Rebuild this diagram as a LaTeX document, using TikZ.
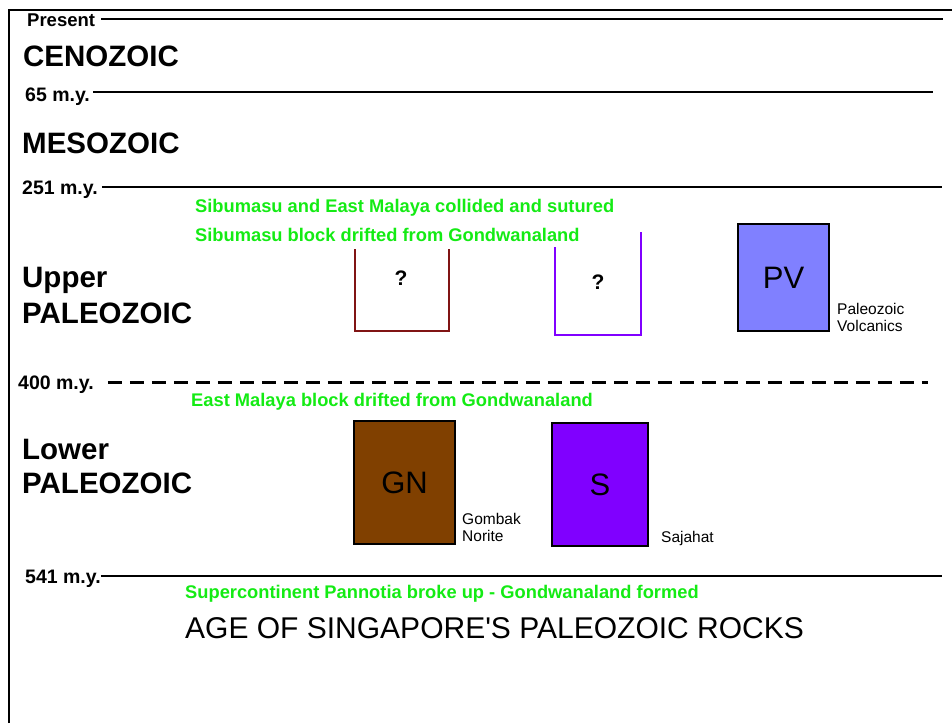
\documentclass[tikz,border=0pt]{standalone}
\usepackage{fontspec}
\newfontfamily\arial{Liberation Sans}
\definecolor{limeg}{RGB}{20,235,20}
\definecolor{brownbox}{RGB}{128,20,20}
\definecolor{violetq}{RGB}{128,0,255}
\definecolor{pvfill}{RGB}{128,128,255}
\definecolor{gnfill}{RGB}{128,64,0}
\definecolor{sfill}{RGB}{128,0,255}
\tikzset{
  every node/.style={font=\arial},
  lbl/.style={anchor=base west, inner sep=0pt, font=\arial\bfseries\fontsize{19.5}{19.5}\selectfont},
  era/.style={anchor=base west, inner sep=0pt, font=\arial\bfseries\fontsize{29.5}{29.5}\selectfont},
  grn/.style={anchor=base west, inner sep=0pt, text=limeg, font=\arial\bfseries\fontsize{18.3}{18.3}\selectfont},
  small/.style={anchor=base west, inner sep=0pt, font=\arial\fontsize{15.5}{17}\selectfont},
  tl/.style={line width=2.8pt, black},
  rock/.style={draw=black, line width=2.8pt, inner sep=0pt, font=\arial\fontsize{31}{31}\selectfont},
  qm/.style={inner sep=0pt, font=\arial\bfseries\fontsize{21}{21}\selectfont},
  openbox/.style={line width=2pt},
}
\begin{document}
\begin{tikzpicture}[x=1pt,y=-1pt]
\useasboundingbox[fill=white] (0,0) rectangle (952,723);
% frame
\draw[line width=2pt] (9,723) -- (9,10) -- (952,10);
% timeline labels
\node[lbl, font=\arial\bfseries\fontsize{18.5}{18.5}\selectfont] (present) at (27,26.5) {Present};
\node[era] (ceno) at (23,66) {CENOZOIC};
\node[lbl] (m65) at (25,101) {65 m.y.};
\node[era] (meso) at (22,153) {MESOZOIC};
\node[lbl] (m251) at (22,194) {251 m.y.};
\node[era] (upper) at (22,287) {Upper};
\node[era] (upal) at (22,323) {PALEOZOIC};
\node[lbl] (m400) at (18,389) {400 m.y.};
\node[era] (lower) at (22,459) {Lower};
\node[era] (lopal) at (22,493) {PALEOZOIC};
\node[lbl] (m541) at (25,583) {541 m.y.};
% timeline lines
\coordinate (epresent) at (943,19);
\coordinate (e65) at (933,92);
\coordinate (e251) at (942,187);
\coordinate (e400) at (928,382);
\coordinate (e541) at (942,576);
\draw[tl] (present.east |- epresent) ++(6,0) -- (epresent);
\draw[tl] (m65.east |- e65) ++(3,0) -- (e65);
\draw[tl] (m251.east |- e251) ++(4,0) -- (e251);
\draw[tl, line width=3pt, dash pattern=on 14pt off 8pt] (m400.east |- e400) ++(14,0) -- (e400);
\draw[tl] (m541.east |- e541) ++(0,0) -- (e541);
% green notes
\node[grn] (g1) at (195,212) {Sibumasu and East Malaya collided and sutured};
\node[grn] (g2) at (195,241) {Sibumasu block drifted from Gondwanaland};
\node[grn] (g3) at (191,406) {East Malaya block drifted from Gondwanaland};
\node[grn] (g4) at (185,598) {Supercontinent Pannotia broke up - Gondwanaland formed};
% open boxes with question marks
\draw[openbox, brownbox] (355,249) -- (355,331) -- (449,331) -- (449,249);
\node[qm] (q1) at (401,278) {?};
\draw[openbox, violetq] (555,247) -- (555,335) -- (641,335) -- (641,232);
\node[qm] (q2) at (598,282) {?};
% rock boxes
\node[rock, fill=pvfill, minimum width=91pt, minimum height=107pt] (pv) at (783.5,277.5) {PV};
\node[small, align=left] (pvl) at (837,331) {Paleozoic\\Volcanics};
\node[rock, fill=gnfill, minimum width=101pt, minimum height=123pt] (gn) at (404.5,482.5) {GN};
\node[small, align=left] (gnl) at (462,541) {Gombak\\Norite};
\node[rock, fill=sfill, minimum width=96pt, minimum height=123pt] (s) at (600,484.5) {S};
\node[small] (sl) at (661,542) {Sajahat};
% title
\node[anchor=base west, inner sep=0pt, font=\arial\fontsize{30}{30}\selectfont] (title) at (185,638) {AGE OF SINGAPORE'S PALEOZOIC ROCKS};
\end{tikzpicture}
\end{document}
